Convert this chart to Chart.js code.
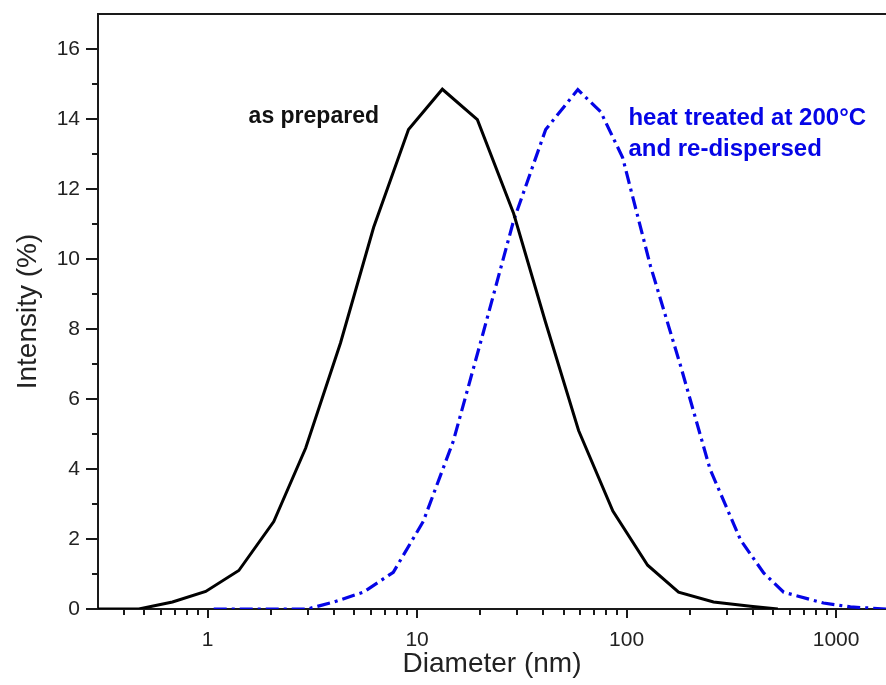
<!DOCTYPE html>
<html>
<head>
<meta charset="utf-8">
<script src="https://cdn.jsdelivr.net/npm/chart.js@4.4.1/dist/chart.umd.min.js"></script>
<style>
  body { margin: 0; background: #fff; }
  #wrap { width: 886px; height: 685px; }
</style>
</head>
<body>
<div id="wrap"><canvas id="dls" width="886" height="685"></canvas></div>
<script>
// as prepared (black, solid)
const preparedDiam = [0.3, 0.47, 0.68, 0.98, 1.41, 2.07, 2.94, 4.31, 6.2, 9.1, 13.2, 19.4, 28.9, 41, 59, 86, 126, 177, 260, 390, 527];
const preparedInt  = [0, 0, 0.2, 0.5, 1.1, 2.5, 4.6, 7.6, 10.9, 13.7, 14.85, 13.98, 11.3, 8.2, 5.1, 2.8, 1.25, 0.48, 0.2, 0.08, 0];

// heat treated at 200°C and re-dispersed (blue, dash-dot)
const heatedDiam = [1.07, 3.0, 4.0, 5.55, 7.7, 10.7, 14.9, 20.7, 28.9, 41.1, 58.5, 75.3, 95.7, 130, 182, 250, 350, 451, 562, 870, 1170, 1730];
const heatedInt  = [0, 0, 0.2, 0.48, 1.05, 2.5, 4.8, 7.9, 11.1, 13.7, 14.84, 14.2, 12.9, 9.8, 6.9, 4.0, 1.97, 1.03, 0.48, 0.17, 0.06, 0];

const xMin = 0.3, xMax = 1730;
const yMin = 0, yMax = 17;

const toPoints = (xs, ys) => xs.map((x, i) => ({ x: x, y: ys[i] }));

const axisColor = '#1a1a1a';
const blue = 'rgb(5, 5, 230)';

function isDecade(v) {
    const l = Math.log10(v);
    return Math.abs(l - Math.round(l)) < 1e-9;
}

// axis tick marks (major + minor) and the top frame line
const frameTicks = {
    id: 'frameTicks',
    afterDraw(chart) {
        const ctx = chart.ctx;
        const area = chart.chartArea;
        const xs = chart.scales.x;
        const ys = chart.scales.y;
        ctx.save();
        ctx.strokeStyle = axisColor;
        ctx.lineWidth = 2;
        ctx.beginPath();
        ctx.moveTo(area.left - 1, area.top);
        ctx.lineTo(area.right, area.top);
        ctx.stroke();

        ctx.beginPath();
        xs.ticks.forEach(t => {
            const v = t.value;
            const m = v / Math.pow(10, Math.floor(Math.log10(v) + 1e-9));
            if (Math.abs(m - Math.round(m)) > 1e-6) return;
            const px = Math.round(xs.getPixelForValue(v));
            if (px <= area.left + 1 || px >= area.right - 1) return;
            const len = isDecade(v) ? 9 : 6;
            ctx.moveTo(px, area.bottom);
            ctx.lineTo(px, area.bottom + len);
        });
        ys.ticks.forEach(t => {
            const py = Math.round(ys.getPixelForValue(t.value));
            if (t.value === yMax) return;
            const len = t.value % 2 === 0 ? 12 : 6;
            ctx.moveTo(area.left, py);
            ctx.lineTo(area.left - len, py);
        });
        ctx.stroke();
        ctx.restore();
    }
};

// curve labels, placed in data units
const curveLabels = {
    id: 'curveLabels',
    afterDatasetsDraw(chart) {
        const ctx = chart.ctx;
        const xs = chart.scales.x;
        const ys = chart.scales.y;
        ctx.save();
        ctx.textAlign = 'left';
        ctx.textBaseline = 'alphabetic';
        ctx.font = 'bold 23px "Liberation Sans", Arial, sans-serif';
        ctx.fillStyle = '#111';
        ctx.fillText('as prepared', xs.getPixelForValue(1.57), ys.getPixelForValue(13.89));
        ctx.font = 'bold 24px "Liberation Sans", Arial, sans-serif';
        ctx.fillStyle = blue;
        ctx.fillText('heat treated at 200°C', xs.getPixelForValue(102), ys.getPixelForValue(13.83));
        ctx.fillText('and re-dispersed', xs.getPixelForValue(102), ys.getPixelForValue(12.94));
        ctx.restore();
    }
};

const dlsConfig = {
    type: 'scatter',
    data: {
        datasets: [{
            label: 'as prepared',
            data: toPoints(preparedDiam, preparedInt),
            showLine: true,
            borderColor: '#000',
            borderWidth: 3,
            pointRadius: 0,
            tension: 0
        }, {
            label: 'heat treated at 200°C and re-dispersed',
            data: toPoints(heatedDiam, heatedInt),
            showLine: true,
            borderColor: blue,
            borderWidth: 3.2,
            borderDash: [13, 5, 3, 5],
            pointRadius: 0,
            tension: 0
        }]
    },
    options: {
        responsive: false,
        animation: false,
        layout: { padding: { top: 14, right: 0, left: 0, bottom: 0 } },
        plugins: {
            legend: { display: false },
            tooltip: { enabled: false }
        },
        scales: {
            x: {
                type: 'logarithmic',
                min: xMin,
                max: xMax,
                grid: { display: false, drawTicks: false },
                border: { display: true, color: axisColor, width: 2 },
                ticks: {
                    autoSkip: false,
                    maxRotation: 0,
                    padding: 19,
                    color: '#222',
                    font: { family: '"Liberation Sans", Arial, sans-serif', size: 21 },
                    callback: (v) => isDecade(v) ? String(Math.round(v)) : ''
                },
                title: {
                    display: true,
                    text: 'Diameter (nm)',
                    color: '#222',
                    font: { family: '"Liberation Sans", Arial, sans-serif', size: 28 },
                    padding: { top: 0, bottom: 4 }
                },
                afterFit: (scale) => {
                    scale.height = 76;
                    scale.paddingLeft = 0;
                    scale.paddingRight = 0;
                }
            },
            y: {
                min: yMin,
                max: yMax,
                grid: { display: false, drawTicks: false },
                border: { display: true, color: axisColor, width: 2 },
                ticks: {
                    stepSize: 1,
                    autoSkip: false,
                    padding: 18,
                    color: '#222',
                    font: { family: '"Liberation Sans", Arial, sans-serif', size: 21 },
                    callback: (v) => v % 2 === 0 ? String(v) : ''
                },
                title: {
                    display: true,
                    text: 'Intensity (%)',
                    color: '#222',
                    font: { family: '"Liberation Sans", Arial, sans-serif', size: 28 },
                    padding: { top: 11, bottom: 0 }
                },
                afterFit: (scale) => {
                    scale.width = 98;
                    scale.paddingTop = 0;
                    scale.paddingBottom = 0;
                }
            }
        }
    },
    plugins: [frameTicks, curveLabels]
};

const dlsChart = new Chart(document.getElementById('dls'), dlsConfig);
</script>
</body>
</html>
